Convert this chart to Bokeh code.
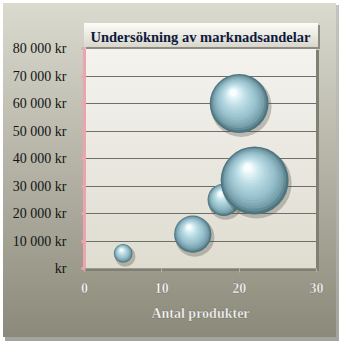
import numpy as np
from bokeh.plotting import figure
from bokeh.models import ColumnDataSource, Range1d, FixedTicker
from bokeh.embed import file_html
from bokeh.resources import INLINE

# ---- data ----
products = [5, 14, 18, 22, 20]            # Antal produkter (x)
revenue = [5500, 12500, 25000, 32000, 60000]   # kr (y)
share = [3, 12, 9, 40, 30]                # bubble size values
x_ticks = [0, 10, 20, 30]
y_ticks = [0, 10000, 20000, 30000, 40000, 50000, 60000, 70000, 80000]
y_tick_labels = ["kr", "10 000 kr", "20 000 kr", "30 000 kr", "40 000 kr",
                 "50 000 kr", "60 000 kr", "70 000 kr", "80 000 kr"]
title_text = "Undersökning av marknadsandelar"
x_title = "Antal produkter"

# ---- geometry / style ----
W, H = 343, 347
L, R, T, B = 84, 27, 48, 79
FW, FH = W - L - R, H - T - B
X0, X1 = 0, 30
Y0, Y1 = 0, 80000
px_x = FW / (X1 - X0)
px_y = FH / (Y1 - Y0)
scale = 10.75  # diameter px per sqrt(size)

stops = [(0.0, (0x4d, 0x74, 0x7f)), (0.12, (0x74, 0x9d, 0xa9)),
         (0.35, (0x96, 0xbf, 0xcb)), (0.65, (0xb8, 0xda, 0xe3)),
         (0.88, (0xdf, 0xf1, 0xf5)), (1.0, (0xf8, 0xfd, 0xfe))]


def col_at(t):
    for (t0, c0), (t1, c1) in zip(stops[:-1], stops[1:]):
        if t0 <= t <= t1:
            f = (t - t0) / (t1 - t0) if t1 > t0 else 0
            c = [round(a + (b - a) * f) for a, b in zip(c0, c1)]
            return "#%02x%02x%02x" % tuple(c)
    return "#%02x%02x%02x" % stops[-1][1]


N = 16
rows = dict(x=[], y=[], size=[], color=[], alpha=[])
for xv, yv, s in zip(products, revenue, share):
    d = scale * np.sqrt(s)
    r = d / 2
    # shadow
    rows["x"].append(xv + 2 / px_x)
    rows["y"].append(yv - 3 / px_y)
    rows["size"].append(d + 2)
    rows["color"].append("#4a4a40")
    rows["alpha"].append(0.30)
    for i in range(N):
        t = i / (N - 1)
        ri = r * (1 - 0.88 * t)
        ox = -0.20 * r * t
        oy = 0.37 * r * t
        rows["x"].append(xv + ox / px_x)
        rows["y"].append(yv + oy / px_y)
        rows["size"].append(2 * ri)
        rows["color"].append(col_at(t))
        rows["alpha"].append(1.0)

src = ColumnDataSource(rows)

p = figure(width=W, height=H, output_backend="svg", toolbar_location=None,
           x_range=Range1d(X0, X1), y_range=Range1d(Y0, Y1),
           min_border_left=L, min_border_right=R, min_border_top=T,
           min_border_bottom=B, title=title_text)

bg = ("linear-gradient(#fcfcf9,#d9d7cc) 84px 23px / 234px 24px no-repeat,"
      "linear-gradient(#8d8c80,#8d8c80) 86px 25px / 234px 24px no-repeat,"
      "linear-gradient(#f4f3ef,#dfdcd0) 84px 48px / 232px 220px no-repeat,"
      "linear-gradient(#807f73,#807f73) 86px 50px / 233px 221px no-repeat,"
      "linear-gradient(#dbdacf,#8b8a7a) 3px 3px / 333px 334px no-repeat,"
      "linear-gradient(#c4c4bf,#a4a49e) 5px 5px / 334px 336px no-repeat,"
      "#ffffff")
p.styles = {"background": bg}
p.border_fill_alpha = 0
p.background_fill_alpha = 0
p.outline_line_color = None

p.title.align = "center"
p.title.text_font = "Liberation Serif"
p.title.text_font_style = "bold"
p.title.text_font_size = "14.5px"
p.title.text_color = "#0e1a3c"
p.title.standoff = 8

p.scatter(x="x", y="y", size="size", source=src, marker="circle",
          fill_color="color", fill_alpha="alpha", line_color=None)

# y axis
ya = p.yaxis[0]
ya.ticker = FixedTicker(ticks=y_ticks)
ya.major_label_overrides = {t: l for t, l in zip(y_ticks, y_tick_labels)}
ya.axis_line_color = "#eca4b0"
ya.axis_line_width = 3
ya.major_tick_line_color = "#eca4b0"
ya.major_tick_line_width = 3
ya.major_tick_out = 3
ya.major_tick_in = 0
ya.minor_tick_line_color = None
ya.major_label_standoff = 15
ya.major_label_text_font = "Liberation Serif"
ya.major_label_text_font_size = "14px"
ya.major_label_text_color = "#141414"

# x axis
xa = p.xaxis[0]
xa.ticker = FixedTicker(ticks=x_ticks)
xa.axis_line_color = "#9c9b91"
xa.major_tick_line_color = "#b4b3a9"
xa.major_tick_out = 4
xa.major_tick_in = 0
xa.minor_tick_line_color = None
xa.major_label_standoff = 10
xa.major_label_text_font = "Liberation Serif"
xa.major_label_text_font_style = "bold"
xa.major_label_text_font_size = "14px"
xa.major_label_text_color = "#ffffff"
xa.axis_label = x_title
xa.axis_label_text_font = "Liberation Serif"
xa.axis_label_text_font_style = "bold"
xa.axis_label_text_font_size = "14px"
xa.axis_label_text_color = "#ffffff"
xa.axis_label_standoff = 10
for obj, attr in [(xa, "major_label_text_outline_color"),
                  (xa, "axis_label_text_outline_color")]:
    try:
        setattr(obj, attr, "rgba(70,70,60,0.3)")
    except Exception:
        pass

p.xgrid.grid_line_color = None
p.ygrid.ticker = FixedTicker(ticks=y_ticks)
p.ygrid.grid_line_color = "#6f6f6a"
p.ygrid.grid_line_width = 1

open("out.html", "w").write(file_html(p, INLINE))
